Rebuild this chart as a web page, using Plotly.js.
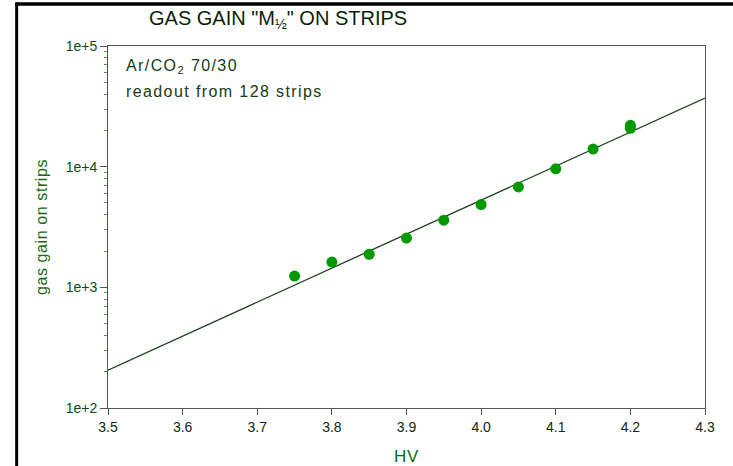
<!DOCTYPE html>
<html>
<head>
<meta charset="utf-8">
<script src="https://cdn.plot.ly/plotly-3.0.1.min.js"></script>
<style>
  html, body { margin: 0; padding: 0; background: #fff; }
  #chart { width: 733px; height: 466px; }
  /* looser tracking for the note lines and axis titles */
  #chart .annotation[data-index="1"] text,
  #chart .annotation[data-index="2"] text { letter-spacing: 1.4px; }
  #chart .ytitle, #chart .xtitle { letter-spacing: 0.6px; }
</style>
</head>
<body>
<div id="chart"></div>
<script>
// Measured gas gain vs. high voltage (kV)
const hv = [3.75, 3.80, 3.85, 3.90, 3.95, 4.00, 4.05, 4.10, 4.15, 4.20, 4.20];
const gain = [1240, 1620, 1880, 2560, 3600, 4850, 6800, 9600, 14000, 22000, 20800];

// Exponential fit drawn across the full HV range
const fitHv = [3.5, 4.3];
const fitGain = [206, 37000];

// Axis ticks
const xTicks = [3.5, 3.6, 3.7, 3.8, 3.9, 4.0, 4.1, 4.2, 4.3];
const xTickText = ['3.5', '3.6', '3.7', '3.8', '3.9', '4.0', '4.1', '4.2', '4.3'];
const yTicks = [100, 1000, 10000, 100000];
const yTickText = ['1e+2', '1e+3', '1e+4', '1e+5'];

const FONT = 'Liberation Sans, Arial, sans-serif';

const traces = [
  {
    x: fitHv, y: fitGain, type: 'scatter', mode: 'lines',
    line: { color: '#1e401e', width: 1.3 },
    hoverinfo: 'skip', showlegend: false
  },
  {
    x: hv, y: gain, type: 'scatter', mode: 'markers',
    marker: { color: '#009900', size: 11 },
    showlegend: false
  }
];

const layout = {
  width: 733, height: 466,
  margin: { l: 108, r: 28, t: 46, b: 58 },
  paper_bgcolor: '#ffffff', plot_bgcolor: '#ffffff',
  font: { family: FONT, size: 14, color: '#0f2a0f' },
  xaxis: {
    range: [3.5, 4.3],
    tickvals: xTicks, ticktext: xTickText,
    ticks: 'outside', ticklen: 6, tickcolor: '#3a6a3a', tickwidth: 1,
    showline: true, linecolor: '#555555', linewidth: 1, mirror: true,
    showgrid: false, zeroline: false,
    tickfont: { family: FONT, size: 14, color: '#0f2a0f' },
    title: { text: 'HV', font: { family: FONT, size: 17, color: '#0a6a0a' }, standoff: 19 }
  },
  yaxis: {
    type: 'log', range: [2, 5],
    tickvals: yTicks, ticktext: yTickText,
    ticks: 'outside', ticklen: 7, tickcolor: '#555555', tickwidth: 1,
    minor: { ticks: 'outside', ticklen: 3, tickcolor: '#4a9a4a', dtick: 'D1', showgrid: false },
    showline: true, linecolor: '#555555', linewidth: 1, mirror: true,
    showgrid: false, zeroline: false,
    tickfont: { family: FONT, size: 14, color: '#0f4a0f' },
    title: { text: 'gas gain on strips', font: { family: FONT, size: 16, color: '#1a6a1a' }, standoff: 14 }
  },
  annotations: [
    {
      text: 'GAS GAIN "M<sub>½</sub>" ON STRIPS',
      xref: 'paper', yref: 'paper', x: 0.066, y: 1.072,
      xanchor: 'left', yanchor: 'middle', showarrow: false,
      font: { family: FONT, size: 20, color: '#0a1f0a' }
    },
    {
      text: 'Ar/CO<sub>2</sub> 70/30',
      xref: 'paper', yref: 'paper', x: 0.027, y: 0.942,
      xanchor: 'left', yanchor: 'middle', align: 'left', showarrow: false,
      font: { family: FONT, size: 16, color: '#143c14' }
    },
    {
      text: 'readout from 128 strips',
      xref: 'paper', yref: 'paper', x: 0.027, y: 0.873,
      xanchor: 'left', yanchor: 'middle', align: 'left', showarrow: false,
      font: { family: FONT, size: 16, color: '#143c14' }
    }
  ],
  shapes: [
    // page frame: left rule and top rule
    { type: 'line', xref: 'paper', yref: 'paper', x0: -0.153, x1: -0.153, y0: -0.2, y1: 1.12,
      line: { color: '#000000', width: 3 } },
    { type: 'line', xref: 'paper', yref: 'paper', x0: -0.155, x1: 1.1, y0: 1.116, y1: 1.116,
      line: { color: '#000000', width: 3.5 } }
  ]
};

Plotly.newPlot('chart', traces, layout, { staticPlot: true, displayModeBar: false });
</script>
</body>
</html>
